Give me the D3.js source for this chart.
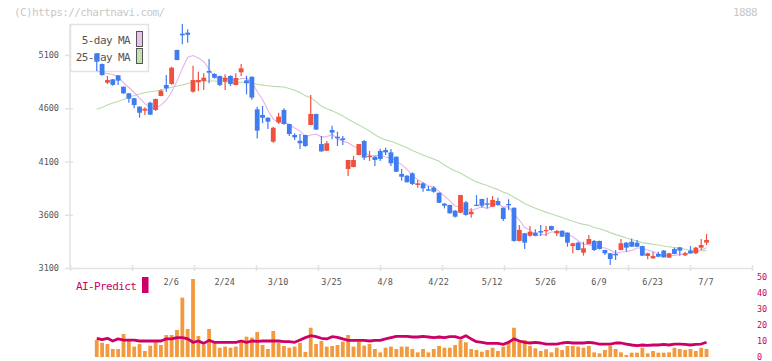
<!DOCTYPE html>
<html>
<head>
<meta charset="utf-8">
<script src="https://cdn.jsdelivr.net/npm/d3@7"></script>
<style>
body { margin: 0; background: #fff; }
text { font-family: "DejaVu Sans Mono", monospace; }
</style>
</head>
<body>
<svg id="chart" width="772" height="361"></svg>
<script>
// daily candles, oldest first (last one is 7/7)
var opens = [5116,5015,4840,4871,4909,4802,4740,4694,4615,4577,
    4652,4584,4715,4818,4828,5147,5300,5310,4756,4844,
    4856,4950,4922,4903,4850,4903,4818,4938,4862,4896,
    4590,4537,4511,4286,4468,4584,4452,4349,4295,4349,
    4443,4546,4264,4201,4396,4333,4317,4030,4048,4161,
    4292,4142,4145,4199,4208,4186,4145,3983,3967,3989,
    3880,3895,3839,3854,3807,3705,3692,3638,3619,3717,
    3604,3694,3748,3707,3676,3729,3666,3701,3666,3354,
    3426,3403,3432,3447,3447,3494,3426,3450,3432,3306,
    3338,3244,3325,3354,3354,3269,3238,3232,3269,3338,
    3347,3338,3306,3213,3191,3232,3263,3197,3278,3294,
    3219,3263,3238,3291,3338];
var highs = [5116,5020,4903,4875,4912,4805,4742,4696,4618,4609,
    4661,4690,4775,4912,4990,5150,5391,5341,5000,4943,
    4928,5062,4930,4906,4919,4910,4928,5016,4905,4898,
    4615,4621,4515,4427,4558,4600,4455,4365,4358,4352,
    4724,4549,4340,4292,4436,4380,4340,4114,4152,4264,
    4302,4199,4152,4220,4230,4217,4148,4030,3970,3999,
    3926,3904,3870,3870,3810,3708,3695,3645,3785,3729,
    3660,3785,3750,3760,3776,3760,3668,3745,3668,3504,
    3428,3494,3463,3504,3494,3497,3457,3453,3435,3338,
    3347,3347,3410,3363,3357,3272,3240,3269,3372,3341,
    3378,3363,3309,3244,3253,3253,3269,3244,3291,3297,
    3253,3306,3300,3372,3419];
var lows = [4950,4905,4828,4811,4818,4735,4652,4600,4511,4537,
    4537,4575,4712,4756,4820,5050,5200,5216,4746,4762,
    4771,4834,4880,4810,4771,4810,4815,4903,4731,4680,
    4315,4460,4405,4277,4452,4445,4340,4302,4217,4239,
    4440,4396,4192,4198,4308,4246,4255,3964,4045,4158,
    4114,4105,4058,4105,4161,4058,4002,3920,3902,3880,
    3854,3816,3824,3807,3710,3660,3610,3575,3616,3591,
    3572,3685,3666,3660,3673,3685,3541,3645,3347,3351,
    3278,3394,3400,3400,3400,3450,3400,3392,3300,3238,
    3266,3216,3322,3260,3275,3222,3128,3175,3266,3253,
    3297,3297,3213,3182,3188,3200,3197,3194,3229,3216,
    3213,3235,3229,3269,3316];
var closes = [5037,4912,4865,4820,4859,4740,4690,4630,4558,4596,
    4540,4687,4765,4787,4981,5053,5285,5290,4865,4865,
    4887,4934,4887,4818,4887,4828,4884,4975,4835,4700,
    4390,4511,4474,4417,4521,4452,4358,4327,4271,4245,
    4546,4400,4195,4271,4371,4318,4302,4114,4114,4264,
    4136,4152,4114,4124,4186,4083,4004,3957,3905,3889,
    3895,3848,3826,3816,3713,3685,3614,3582,3785,3598,
    3629,3685,3685,3694,3739,3692,3560,3689,3354,3457,
    3338,3441,3403,3432,3457,3457,3447,3394,3338,3332,
    3269,3285,3372,3269,3278,3238,3185,3219,3332,3291,
    3300,3300,3216,3238,3213,3206,3200,3238,3232,3263,
    3238,3238,3291,3316,3363];

// moving average values before enough closes are on screen
var ma5Head = [4950,4936,4926,4917];
var ma25Head = [4593,4607,4630,4649,4663,4682,4706,4720,4734,4748,
    4755,4762,4771,4786,4797,4809,4818,4832,4847,4856,
    4856,4856,4856,4856];

// lower panel
var volumes = [10.6,8.9,8.1,5.0,5.0,14.4,10.0,6.5,8.1,3.75,
    7.1,9.2,7.5,13.75,13.75,16.9,37.1,17.5,48.75,13.1,
    7.5,17.5,9.2,5.8,6.5,5.8,6.5,10.2,12.7,12.1,
    15.6,7.5,5.0,16.25,8.9,6.9,5.8,6.5,8.9,3.1,
    18.3,8.1,10.0,6.5,6.9,7.5,9.6,13.75,6.5,9.6,
    7.1,8.1,5.0,2.9,5.8,6.5,5.0,6.5,6.5,5.0,
    2.9,5.0,2.9,5.0,6.9,5.8,5.8,7.5,10.6,9.2,
    5.0,4.4,3.3,4.4,5.8,3.75,6.5,10.0,18.3,9.6,
    10.6,6.9,5.4,3.75,4.8,2.9,5.8,4.4,6.9,6.9,
    6.5,5.8,6.9,2.9,2.3,4.4,6.9,5.0,2.9,1.25,
    2.7,2.7,5.8,2.3,3.75,2.7,2.7,2.9,5.8,5.0,
    4.4,5.0,3.75,5.8,5.0];
var aiPredict = [11.7,10.8,11.7,10.0,11.3,10.6,10.6,10.6,10.0,10.0,
    10.0,10.0,10.0,11.3,11.3,12.1,12.1,11.3,9.2,10.0,
    8.5,10.4,9.2,9.2,9.2,9.2,9.2,10.0,9.2,10.0,
    9.8,10.0,10.0,10.0,10.0,9.6,9.6,9.2,10.6,12.1,
    13.3,12.7,11.7,11.3,12.7,12.3,11.3,10.4,10.4,10.4,
    10.4,10.0,10.4,10.4,11.3,12.1,12.9,12.9,12.9,12.5,
    12.5,12.9,12.5,12.1,12.5,12.1,12.7,12.7,11.7,13.3,
    11.3,9.6,9.2,8.5,8.5,8.5,7.9,9.2,11.3,10.0,
    9.2,8.75,9.2,8.75,8.1,8.1,8.1,8.75,9.2,8.75,
    8.75,8.75,9.2,8.75,8.1,8.1,8.1,8.75,8.75,8.1,
    7.5,7.1,7.5,7.3,7.5,7.5,7.9,7.5,8.1,8.1,
    7.9,7.5,7.9,8.1,9.2];

var priceTicks = [3100,3600,4100,4600,5100];
var dateLabels = ["2/6","2/24","3/10","3/25","4/8","4/22","5/12","5/26","6/9","6/23","7/7"];
var dateIdx = [14,24,34,44,54,64,74,84,94,104,114];
var rightTicks = [0,10,20,30,40,50];

var upColor = "#f0503e";
var downColor = "#3f7cf0";
var axisColor = "#e2e2e2";
var crimson = "#cc0066";

function movingAvg(n, head){
    return closes.map(function(c, i){
        if(i < n-1){ return head[i]; }
        return d3.mean(closes.slice(i-n+1, i+1));
    });
}
var ma5 = movingAvg(5, ma5Head);
var ma25 = movingAvg(25, ma25Head);

var svg = d3.select("#chart");
var plotTop = 24, plotBottom = 268, plotLeft = 70, plotRight = 752;

var x = d3.scaleLinear().domain([-5, 122.5]).range([plotLeft, plotRight]);
var y = d3.scaleLinear().domain([3100, 5100]).range([plotBottom, 55]);
var vy = d3.scaleLinear().domain([0, 50]).range([357, 277]);
var frame = d3.scaleLinear().domain([0, 11]).range([plotLeft, plotRight]);

// header texts
svg.append("text")
    .text("(C)https://chartnavi.com/")
    .attr("x", 14).attr("y", 16)
    .attr("font-size", 11).attr("letter-spacing", -0.6)
    .attr("fill", "#c8c8c8");
svg.append("text")
    .text("1888")
    .attr("x", 757).attr("y", 16)
    .attr("text-anchor", "end")
    .attr("font-size", 11).attr("letter-spacing", -0.6)
    .attr("fill", "#c8c8c8");

// bottom axis (ticks only)
var xa = svg.append("g")
    .attr("transform", "translate(0," + plotBottom + ")")
    .call(d3.axisBottom(frame).tickValues(d3.range(12)).tickFormat("").tickSizeOuter(0).tickSizeInner(3));
xa.select(".domain").attr("stroke", axisColor).attr("stroke-width", 1.5);
xa.selectAll(".tick line").attr("stroke", axisColor).attr("stroke-width", 1.5).attr("y1", -3);

// left axis
svg.append("line")
    .attr("x1", plotLeft).attr("x2", plotLeft)
    .attr("y1", plotTop).attr("y2", plotBottom)
    .attr("stroke", axisColor).attr("stroke-width", 1.5);
var ya = svg.append("g")
    .attr("transform", "translate(" + plotLeft + ",0)")
    .call(d3.axisLeft(y).tickValues(priceTicks).tickFormat(d3.format("d")).tickSize(5).tickPadding(6));
ya.select(".domain").remove();
ya.selectAll(".tick line").attr("stroke", axisColor).attr("stroke-width", 1.5).attr("x1", 3);
ya.selectAll(".tick text")
    .attr("font-family", "DejaVu Sans Mono")
    .attr("font-size", 8.5)
    .attr("fill", "#555");

// date labels
svg.selectAll(".dlabel")
    .data(dateLabels)
    .enter().append("text")
    .attr("class", "dlabel")
    .text(function(d){ return d; })
    .attr("x", function(d, k){ return x(dateIdx[k]) - 0.5; })
    .attr("y", 285)
    .attr("text-anchor", "middle")
    .attr("font-size", 8.5)
    .attr("fill", "#555");

// legend box (candles are drawn on top of it)
svg.append("rect")
    .attr("x", 70.5).attr("y", 24.5)
    .attr("width", 78).attr("height", 47)
    .attr("fill", "#fff")
    .attr("stroke", axisColor).attr("stroke-width", 1.5);
var legendItems = [["5-day MA", "#ecc2ec"], ["25-day MA", "#c2e2b4"]];
legendItems.forEach(function(item, k){
    svg.append("text")
        .text(item[0])
        .attr("x", 130).attr("y", 44 + k*17)
        .attr("text-anchor", "end")
        .attr("font-size", 11).attr("letter-spacing", -0.6)
        .attr("fill", "#555");
    svg.append("rect")
        .attr("x", 136.5).attr("y", 31.5 + k*17)
        .attr("width", 6).attr("height", 15)
        .attr("fill", item[1])
        .attr("stroke", "#555").attr("stroke-width", 1);
});

// moving averages
var maLine = function(vals){
    return d3.line()
        .x(function(d, i){ return x(i); })
        .y(function(d){ return y(d); })(vals);
};
svg.append("path")
    .attr("d", maLine(ma25))
    .attr("fill", "none")
    .attr("stroke", "#b9dcaa")
    .attr("stroke-width", 1.1);
svg.append("path")
    .attr("d", maLine(ma5))
    .attr("fill", "none")
    .attr("stroke", "#e6b2ea")
    .attr("stroke-width", 1.1);

// candles
var idx = d3.range(closes.length);
var candle = svg.selectAll(".candle")
    .data(idx)
    .enter().append("g")
    .attr("class", "candle");
candle.append("line")
    .attr("x1", function(i){ return x(i); })
    .attr("x2", function(i){ return x(i); })
    .attr("y1", function(i){ return y(highs[i]); })
    .attr("y2", function(i){ return y(lows[i]); })
    .attr("stroke", function(i){ return closes[i] >= opens[i] ? upColor : downColor; })
    .attr("stroke-width", 1.2);
candle.append("rect")
    .attr("x", function(i){ return x(i) - 2.4; })
    .attr("width", 4.8)
    .attr("y", function(i){ return y(Math.max(opens[i], closes[i])); })
    .attr("height", function(i){ return Math.max(1.2, Math.abs(y(opens[i]) - y(closes[i]))); })
    .attr("fill", function(i){ return closes[i] >= opens[i] ? upColor : downColor; });

// volume bars
svg.selectAll(".vol")
    .data(volumes)
    .enter().append("rect")
    .attr("class", "vol")
    .attr("x", function(d, i){ return x(i) - 1.9; })
    .attr("width", 3.8)
    .attr("y", function(d){ return vy(d); })
    .attr("height", function(d){ return vy(0) - vy(d); })
    .attr("fill", "#f39a3e");

// AI-Predict line
svg.append("path")
    .attr("d", d3.line()
        .x(function(d, i){ return x(i); })
        .y(function(d){ return vy(d); })(aiPredict))
    .attr("fill", "none")
    .attr("stroke", crimson)
    .attr("stroke-width", 2.8)
    .attr("stroke-linejoin", "round");

// right axis labels
svg.selectAll(".rlabel")
    .data(rightTicks)
    .enter().append("text")
    .attr("class", "rlabel")
    .text(function(d){ return d; })
    .attr("x", 757)
    .attr("y", function(d){ return vy(d) + 3.3; })
    .attr("font-size", 8.5)
    .attr("fill", crimson);

// AI-Predict legend
svg.append("text")
    .text("AI-Predict")
    .attr("x", 76).attr("y", 290)
    .attr("font-size", 11).attr("letter-spacing", -0.6)
    .attr("fill", crimson);
svg.append("rect")
    .attr("x", 142).attr("y", 277)
    .attr("width", 6.5).attr("height", 16)
    .attr("fill", crimson);
</script>
</body>
</html>
